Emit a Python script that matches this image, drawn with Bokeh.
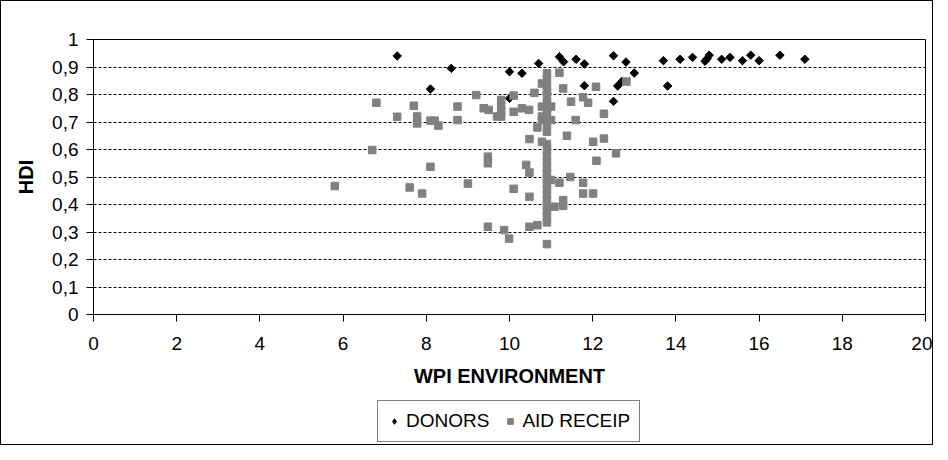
import numpy as np
from bokeh.plotting import figure
from bokeh.layouts import column
from bokeh.models import FixedTicker, Legend, LegendItem
from bokeh.embed import file_html
from bokeh.resources import INLINE

# ---- data ----
donors_x = [7.3, 8.1, 8.6, 10.0, 10.0, 10.3, 10.7, 10.9, 11.2, 11.3, 11.6, 11.8, 11.8,
            12.5, 12.5, 12.6, 12.7, 12.8, 13.0, 13.7, 13.8, 14.1, 14.4, 14.7, 14.75,
            14.8, 15.1, 15.3, 15.6, 15.8, 16.0, 16.5, 17.1]
donors_y = [0.94, 0.82, 0.895, 0.883, 0.786, 0.877, 0.913, 0.805, 0.937, 0.919, 0.928,
            0.911, 0.832, 0.941, 0.775, 0.831, 0.847, 0.918, 0.878, 0.923, 0.831, 0.928,
            0.935, 0.921, 0.93, 0.943, 0.928, 0.935, 0.923, 0.943, 0.923, 0.943, 0.928]

aid_x = [5.8, 6.7, 6.8, 7.3, 7.6, 7.7, 7.78, 7.78, 7.9, 8.1, 8.1, 8.2, 8.29, 8.75, 8.75,
         9.0, 9.2, 9.38, 9.5, 9.48, 9.48, 9.48, 9.7, 9.8, 9.8, 9.8, 9.8, 9.87, 9.99,
         10.1, 10.1, 10.1, 10.3, 10.4, 10.47, 10.48, 10.48, 10.48, 10.48, 10.6, 10.67,
         10.67, 10.78, 10.78, 10.78, 10.78, 10.78,
         10.9, 10.9, 10.9, 10.9, 10.9, 10.9, 10.9, 10.9, 10.9, 10.9, 10.9, 10.9, 10.9,
         10.9, 10.9, 10.9, 10.9, 10.9, 10.9, 10.9, 10.9, 10.9, 10.9, 10.9, 10.9, 10.9,
         10.9,
         11.0, 11.0, 10.99, 11.08, 11.2, 11.2, 11.29, 11.29, 11.29, 11.38, 11.48, 11.46,
         11.59, 11.77, 11.77, 11.77, 11.89, 12.01, 12.01, 12.08, 12.09, 12.27, 12.27,
         12.56, 12.81]
aid_y = [0.467, 0.598, 0.77, 0.719, 0.462, 0.759, 0.72, 0.695, 0.44, 0.705, 0.537, 0.705,
         0.687, 0.756, 0.707, 0.476, 0.798, 0.75, 0.744, 0.574, 0.55, 0.319, 0.72, 0.78,
         0.76, 0.74, 0.72, 0.307, 0.276, 0.796, 0.737, 0.457, 0.75, 0.544, 0.744, 0.516,
         0.638, 0.428, 0.319, 0.806, 0.68, 0.325, 0.84, 0.756, 0.72, 0.707, 0.628,
         0.877, 0.855, 0.83, 0.81, 0.79, 0.77, 0.75, 0.73, 0.71, 0.69, 0.665, 0.62, 0.60,
         0.575, 0.555, 0.535, 0.515, 0.495, 0.475, 0.455, 0.435, 0.415, 0.395, 0.375,
         0.355, 0.335, 0.256,
         0.756, 0.707, 0.489, 0.392, 0.879, 0.479, 0.822, 0.416, 0.395, 0.65, 0.774, 0.50,
         0.707, 0.79, 0.479, 0.44, 0.77, 0.628, 0.44, 0.828, 0.559, 0.73, 0.64,
         0.586, 0.847]

x_ticks = [0, 2, 4, 6, 8, 10, 12, 14, 16, 18, 20]
y_ticks = [0, 0.1, 0.2, 0.3, 0.4, 0.5, 0.6, 0.7, 0.8, 0.9, 1.0]
y_tick_labels = ["0", "0,1", "0,2", "0,3", "0,4", "0,5", "0,6", "0,7", "0,8", "0,9", "1"]
series_labels = ["DONORS", "AID RECEIP"]

FONT = "Liberation Sans"
DON_STYLE = dict(marker="square", angle=np.pi / 4, fill_color="#000000", line_color="#000000")
AID_STYLE = dict(marker="square", fill_color="#808080", line_color="#808080")
LEFT, RIGHT, FRAME_W = 92, 7, 832

p = figure(frame_width=FRAME_W, frame_height=275, x_range=(0, 20), y_range=(0, 1),
           output_backend="svg", toolbar_location=None,
           min_border_left=LEFT, min_border_right=RIGHT, min_border_top=38,
           min_border_bottom=82)

p.outline_line_color = "#000000"
p.outline_line_width = 1
p.background_fill_color = "white"
p.border_fill_color = "white"

p.xgrid.grid_line_color = None
p.ygrid.ticker = FixedTicker(ticks=y_ticks[1:-1])
p.ygrid.grid_line_color = "#000000"
p.ygrid.grid_line_dash = "3 2"
p.ygrid.grid_line_width = 1

p.xaxis.ticker = FixedTicker(ticks=x_ticks)
p.yaxis.ticker = FixedTicker(ticks=y_ticks)
p.yaxis.major_label_overrides = {t: l for t, l in zip(y_ticks, y_tick_labels)}
for ax in (p.xaxis, p.yaxis):
    ax.axis_line_color = "#000000"
    ax.major_tick_line_color = "#000000"
    ax.major_tick_in = 0
    ax.major_tick_out = 7
    ax.minor_tick_line_color = None
    ax.major_label_text_font = FONT
    ax.major_label_text_font_size = "19px"
    ax.major_label_text_color = "#000000"
    ax.axis_label_text_font = FONT
    ax.axis_label_text_font_size = "20px"
    ax.axis_label_text_font_style = "bold"
    ax.axis_label_text_color = "#000000"

p.xaxis.axis_label = "WPI ENVIRONMENT"
p.yaxis.axis_label = "HDI"
p.xaxis.major_label_standoff = 15
p.xaxis.axis_label_standoff = 12
p.yaxis.major_label_standoff = 8
p.yaxis.axis_label_standoff = 12

p.scatter(donors_x, donors_y, size=6, **DON_STYLE)
p.scatter(aid_x, aid_y, size=7.5, **AID_STYLE)

# legend strip below the chart (frame aligned with the chart's frame)
lg = figure(frame_width=FRAME_W, frame_height=48,
            x_range=(0, 1), y_range=(0, 1), x_axis_type=None, y_axis_type=None,
            output_backend="svg", toolbar_location=None,
            min_border_left=LEFT, min_border_right=RIGHT, min_border_top=0,
            min_border_bottom=0)
lg.outline_line_color = None
lg.xgrid.grid_line_color = None
lg.ygrid.grid_line_color = None
lg.border_fill_color = "white"
lg_don = lg.scatter([5], [5], marker="diamond", size=9,
                    fill_color="#000000", line_color="#000000")
lg_aid = lg.scatter([5], [5], size=7.5, **AID_STYLE)

legend = Legend(items=[LegendItem(label=series_labels[0], renderers=[lg_don]),
                       LegendItem(label=series_labels[1], renderers=[lg_aid])],
                orientation="horizontal", location=(376 - LEFT, 2))
legend.label_text_font = FONT
legend.label_text_font_size = "19px"
legend.label_text_color = "#000000"
legend.border_line_color = "#000000"
legend.border_line_width = 1
legend.glyph_width = 14
legend.glyph_height = 14
legend.label_standoff = 5
legend.spacing = 14
legend.padding = 9
legend.margin = 0
legend.background_fill_alpha = 1
lg.add_layout(legend, "center")

layout = column(p, lg, spacing=0, styles={"border": "1px solid #000000"})

open("out.html", "w").write(file_html(layout, INLINE))
